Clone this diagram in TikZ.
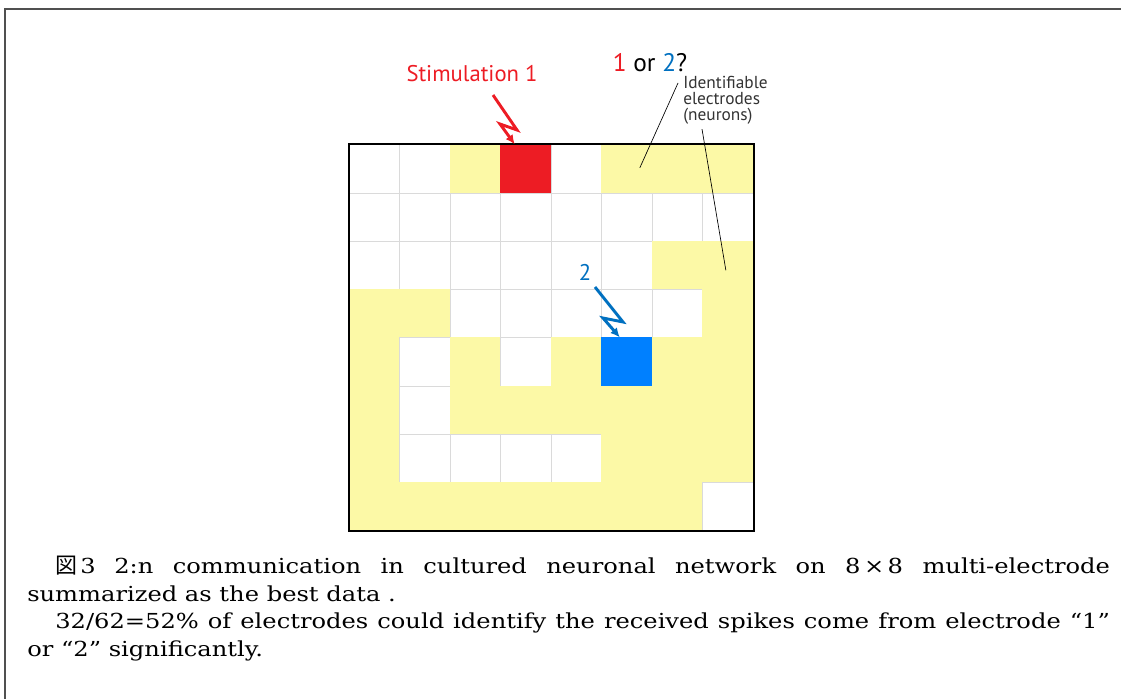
\documentclass[tikz,border=0pt]{standalone}
\usepackage{fontspec}
\setmainfont{DejaVu Serif}
\newfontfamily\capfont[FakeStretch=1.17]{DejaVu Serif}
\newfontfamily\labelfont{PT Sans}
\newfontfamily\cjk{Noto Sans CJK JP}
\usetikzlibrary{calc,positioning,arrows.meta}
\definecolor{cfw}{RGB}{255,255,255}
\definecolor{cdw}{RGB}{218,218,218}
\definecolor{cfy}{RGB}{252,249,166}
\definecolor{cdy}{RGB}{252,249,166}
\definecolor{cfr}{RGB}{237,28,36}
\definecolor{cdr}{RGB}{237,28,36}
\definecolor{cfb}{RGB}{0,128,255}
\definecolor{cdb}{RGB}{0,128,255}
\definecolor{stimred}{RGB}{237,28,36}
\definecolor{arrowblue}{RGB}{0,112,192}
\definecolor{framegray}{RGB}{80,80,80}

\begin{document}
\begin{tikzpicture}[x=0.75pt,y=-0.75pt,>={Latex[length=7pt,width=6.5pt]}]

        % Setup the styles for the electrodes and labels
        \tikzset{cell/.style={rectangle,
                              anchor=north west,
                              inner sep=0pt,
                              minimum width=37.9pt,
                              minimum height=36.2pt,
                              line width=0.6pt,
                              fill=cf#1,
                              draw=cd#1},
                 zap/.style={->, line width=2.2pt, line join=miter},
                 leader/.style={draw=black, line width=0.5pt},
                 lbl/.style={inner sep=0pt, font=\labelfont}}

        \useasboundingbox (0,0) rectangle (1121,699);

        % Page frame
        \draw[framegray, line width=1.5pt] (1121,9.5) -- (5,9.5) -- (5,699);

        % Draw the 8x8 electrodes
        \foreach \row [count=\r from 0] in {{w,w,y,r,w,y,y,y},
                                            {w,w,w,w,w,w,w,w},
                                            {w,w,w,w,w,w,y,y},
                                            {y,y,w,w,w,w,w,y},
                                            {y,w,y,w,y,b,y,y},
                                            {y,w,y,y,y,y,y,y},
                                            {y,w,w,w,w,y,y,y},
                                            {y,y,y,y,y,y,y,w}}
            \foreach \k [count=\c from 0] in \row
                \node[cell=\k] (c\r\c) at ({348.5+50.53*\c},{144.3+48.27*\r}) {};
        \draw[black, line width=1.5pt] (c00.north west) rectangle (c77.south east);

        % Labels
        \node[lbl, anchor=base, text=stimred, font=\labelfont\fontsize{17}{20}\selectfont] (stim) at (472,82) {Stimulation 1};
        \node[lbl, anchor=base, font=\labelfont\fontsize{19}{22}\selectfont] (which) at (650,72) {{\color{stimred}1} or {\color{arrowblue}2}?};
        \node[lbl, anchor=north west, align=left, text=black!80, font=\labelfont\fontsize{13}{11.8}\selectfont] (ident) at (683,76) {Identifiable\\electrodes\\(neurons)};
        \node[lbl, anchor=base, text=arrowblue, font=\labelfont\fontsize{17}{20}\selectfont] (two) at (585,280) {2};

        % Stimulation arrows
        \draw[zap, stimred] ($(stim.base)+(21,13)$) -- ++(24,35) -- ++(-17,-6) -- ($(c03.north)+(-11,0)$);
        \draw[zap, arrowblue] ($(two.base)+(10,7)$) -- ++(28,35) -- ++(-20,-4) -- ($(c45.north)+(-7,0)$);

        % Leader lines
        \draw[leader] ($(ident.north west)+(-5,7)$) -- ($(c05.center)+(13,-1)$);
        \draw[leader] ($(ident.south west)+(19,5)$) -- ($(c27.center)+(-2,5)$);

        % Caption
        \node[anchor=north west, inner sep=0pt, text width=812pt, align=justify,
              font=\capfont\fontsize{15.5}{20.6}\selectfont] (caption) at (27,556)
            {\noindent\hspace*{21pt}{\cjk\fontsize{16.5}{20.6}\selectfont 図}\hspace{0.15em}3\hspace{0.9em}2:n communication in cultured neuronal network on 8\,×\,8 multi-electrode\linebreak summarized as the best data .\par
             \noindent\hspace*{21pt}32/62=52\% of electrodes could identify the received spikes come from electrode “1”\linebreak or “2” significantly.};
\end{tikzpicture}
\end{document}
